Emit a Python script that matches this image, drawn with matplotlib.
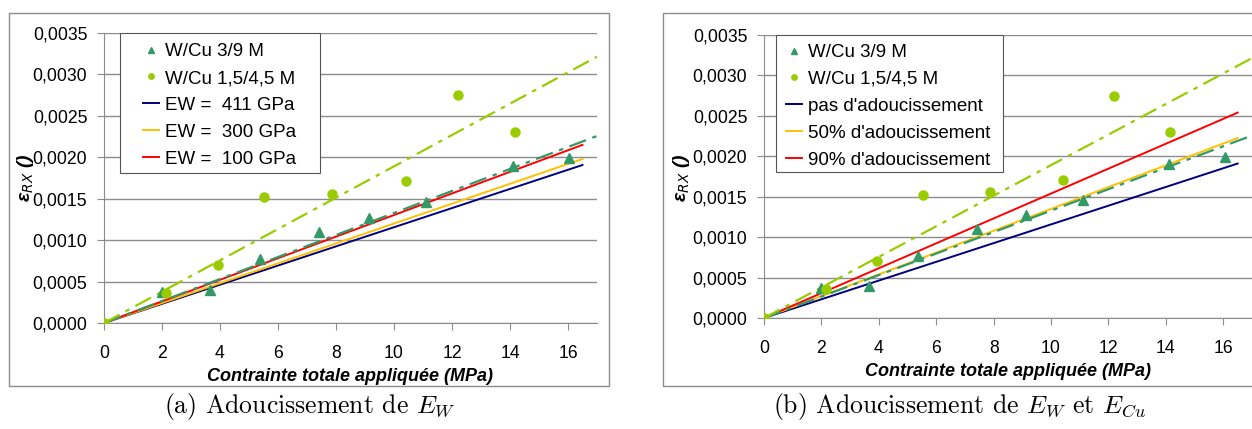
import matplotlib
matplotlib.use("Agg")
import matplotlib.pyplot as plt
from matplotlib.patches import Rectangle
from matplotlib.ticker import MultipleLocator, FuncFormatter

plt.rcParams['font.family'] = ['Liberation Sans', 'DejaVu Sans']

# ---- data ----
tri_x = [0, 2.0, 3.65, 5.37, 7.42, 9.13, 11.1, 14.1, 16.05]
tri_y = [0, 0.00037, 0.00040, 0.00077, 0.00110, 0.00127, 0.00146, 0.00190, 0.00199]
circ_x = [0, 2.15, 3.93, 5.53, 7.87, 10.42, 12.21, 14.16]
circ_y = [0, 0.00036, 0.00070, 0.00152, 0.00156, 0.00171, 0.00275, 0.00230]

trend_x = [0, 17]
trend_tri_y = [0, 0.002257]
trend_circ_y = [0, 0.003214]

model_x = [0, 16.5]
# panel (a)
a_labels = ['EW =  411 GPa', 'EW =  300 GPa', 'EW =  100 GPa']
a_end = [0.001907, 0.001980, 0.002150]
# panel (b)
b_labels = ["pas d'adoucissement", "50% d'adoucissement", "90% d'adoucissement"]
b_end = [0.001910, 0.002226, 0.002540]

model_colors = ['#000080', '#FFC000', '#FF0000']
tri_color = '#339966'
circ_color = '#99CC00'

xticks = [0, 2, 4, 6, 8, 10, 12, 14, 16]
ylabel = r'ε$_{\mathit{RX}}$ ()'
xlabel = 'Contrainte totale appliquée (MPa)'
captions = [r'(a) Adoucissement de $E_W$', r'(b) Adoucissement de $E_W$ et $E_{Cu}$']

W, H = 1252, 429
fig = plt.figure(figsize=(W / 100, H / 100), dpi=100)

# outer chart-area boxes
for (x0, x1) in [(9, 609), (663, 1260)]:
    fig.patches.append(Rectangle((x0 / W, 1 - 386 / H), (x1 - x0) / W, (386 - 13) / H,
                                 transform=fig.transFigure, fill=False, edgecolor='#8c8c8c', lw=1.0))

ax_px = [(104, 597, 33, 323), (764, 1252, 35, 318)]
ylab_x = [26, 681]
cap_x = [310, 960]
# legend frame boxes (px) and content anchor (px)
leg_box = [(120, 320, 33, 173), (776, 1003, 35, 172)]
leg_anchor = [(143, 43), (786, 44)]

def fmt(v, pos):
    return ('%.4f' % v).replace('.', ',')

for i, (labels, ends) in enumerate([(a_labels, a_end), (b_labels, b_end)]):
    l, r, t, b = ax_px[i]
    ax = fig.add_axes([l / W, 1 - b / H, (r - l) / W, (b - t) / H])
    ax.set_xlim(0, 17)
    ax.set_ylim(0, 0.0035)
    ax.yaxis.set_major_locator(MultipleLocator(0.0005))
    ax.yaxis.set_major_formatter(FuncFormatter(fmt))
    ax.set_xticks(xticks)
    ax.grid(axis='y', color='#8c8c8c', lw=1.0)
    ax.set_axisbelow(True)
    for s in ['top', 'right']:
        ax.spines[s].set_visible(False)
    for s in ['left', 'bottom']:
        ax.spines[s].set_color('#8c8c8c')
    ax.tick_params(axis='both', colors='#8c8c8c', labelcolor='black', labelsize=12.7,
                   length=5)
    ax.tick_params(axis='y', pad=7)
    ax.tick_params(axis='x', pad=11)

    h1, = ax.plot(tri_x, tri_y, linestyle='none', marker='^', color=tri_color, ms=7,
                  label='W/Cu 3/9 M', zorder=5)
    h2, = ax.plot(circ_x, circ_y, linestyle='none', marker='o', color=circ_color, ms=6.5,
                  label='W/Cu 1,5/4,5 M', zorder=5)
    hs = [h1, h2]
    for lab, e, c in zip(labels, ends, model_colors):
        h, = ax.plot(model_x, [0, e], color=c, lw=1.4, label=lab, zorder=3)
        hs.append(h)
    ax.plot(trend_x, trend_tri_y, color=tri_color, lw=1.6, dashes=(8, 3, 2, 3), zorder=4)
    ax.plot(trend_x, trend_circ_y, color=circ_color, lw=1.6, dashes=(8, 3, 2, 3), zorder=4)

    # legend frame
    bl, br, bt, bb = leg_box[i]
    ax.add_artist(Rectangle((bl / W, 1 - bb / H), (br - bl) / W, (bb - bt) / H,
                            transform=fig.transFigure, facecolor='white', clip_on=False,
                            edgecolor='#555555', lw=0.8, zorder=6))
    ax_x, ax_y = leg_anchor[i]
    leg = ax.legend(handles=hs, loc='upper left',
                    bbox_to_anchor=(ax_x / W, 1 - ax_y / H), bbox_transform=fig.transFigure,
                    fontsize=13.5, handlelength=0.85, handletextpad=0.3, labelspacing=0.52,
                    borderaxespad=0, borderpad=0, frameon=False, markerscale=0.6)
    leg.set_zorder(7)

    ax.set_xlabel(xlabel, fontsize=13, fontweight='bold', fontstyle='italic', labelpad=4)
    fig.text(ylab_x[i] / W, 1 - 178 / H, ylabel, rotation=90, fontsize=14, ha='center',
             va='center', fontweight='bold', fontstyle='italic', math_fontfamily='dejavusans')
    fig.text(cap_x[i] / W, 1 - 407 / H, captions[i], fontsize=18.5, ha='center', va='center',
             family='cmr10', math_fontfamily='cm')

fig.savefig('out.png', dpi=100)
